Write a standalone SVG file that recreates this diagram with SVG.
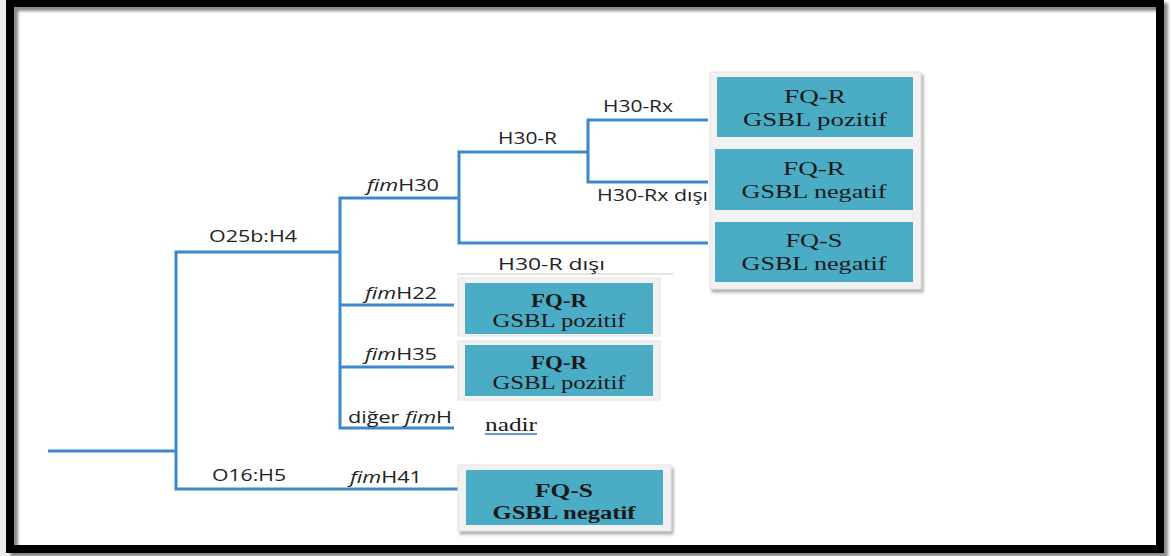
<svg xmlns="http://www.w3.org/2000/svg" width="1171" height="556" viewBox="0 0 1171 556">
  <defs>
    <filter id="blur" x="-5%" y="-5%" width="110%" height="110%">
      <feGaussianBlur stdDeviation="1.5"/>
    </filter>
    <filter id="psh" x="-10%" y="-10%" width="120%" height="120%">
      <feDropShadow dx="2" dy="3" stdDeviation="1.5" flood-color="#777" flood-opacity="0.6"/>
    </filter>
  </defs>
  <style>
    .ln { fill: none; stroke: #3d87cc; stroke-width: 3; stroke-linejoin: miter; stroke-linecap: butt; }
    .lbl { font-family: "Open Sans", "Liberation Sans", sans-serif; font-size: 16px; fill: #222; }
    .it { font-style: italic; }
    .panel { fill: #f2f2f2; stroke: #e2e2e2; stroke-width: 1; }
    .box { fill: #4bacc6; }
    .bt { font-family: "Liberation Serif", "Times New Roman", serif; font-size: 19px; fill: #1a1a1a; text-anchor: middle; }
    .b { font-weight: bold; }
  </style>
  <rect width="1171" height="556" fill="#ffffff"/>
  <rect x="0" y="0" width="6" height="556" fill="#ececec"/>
  <g id="frame">
    <rect x="14" y="7" width="1150" height="546" fill="none" stroke="#8a8a8a" stroke-width="8" filter="url(#blur)"/>
    <rect x="10" y="3" width="1150" height="546" fill="none" stroke="#000" stroke-width="8"/>
  </g>
  <g id="connectors">
    <path class="ln" d="M48 451 H176"/>
    <path class="ln" d="M340 252 H176 V489 H458"/>
    <path class="ln" d="M459 198 H340 V428 H454"/>
    <path class="ln" d="M340 305 H454"/>
    <path class="ln" d="M340 367 H454"/>
    <path class="ln" d="M588 152 H459 V243 H708"/>
    <path class="ln" d="M708 120 H588 V182 H708"/>
    <line x1="457" y1="274" x2="673" y2="274" stroke="#e4e4e4" stroke-width="2"/>
  </g>
  <g id="labels">
    <text class="lbl" x="209" y="242" textLength="88" lengthAdjust="spacingAndGlyphs">O25b:H4</text>
    <text class="lbl" x="212" y="481" textLength="74" lengthAdjust="spacingAndGlyphs">O16:H5</text>
    <text class="lbl" x="350" y="483" textLength="72" lengthAdjust="spacingAndGlyphs"><tspan class="it">fim</tspan>H41</text>
    <text class="lbl" x="367" y="191" textLength="72" lengthAdjust="spacingAndGlyphs"><tspan class="it">fim</tspan>H30</text>
    <text class="lbl" x="365" y="299" textLength="72" lengthAdjust="spacingAndGlyphs"><tspan class="it">fim</tspan>H22</text>
    <text class="lbl" x="365" y="360" textLength="72" lengthAdjust="spacingAndGlyphs"><tspan class="it">fim</tspan>H35</text>
    <text class="lbl" x="348" y="423" textLength="104" lengthAdjust="spacingAndGlyphs">diğer <tspan class="it">fim</tspan>H</text>
    <text class="lbl" x="498" y="144" textLength="59" lengthAdjust="spacingAndGlyphs">H30-R</text>
    <text class="lbl" x="498" y="270" textLength="107" lengthAdjust="spacingAndGlyphs">H30-R dışı</text>
    <text class="lbl" x="603" y="112" textLength="70" lengthAdjust="spacingAndGlyphs">H30-Rx</text>
    <text class="lbl" x="597" y="201" textLength="111" lengthAdjust="spacingAndGlyphs">H30-Rx dışı</text>
  </g>
  <g id="group-h30">
    <rect class="panel" x="710" y="72" width="211" height="217" filter="url(#psh)"/>
  </g>
  <g id="node-h30rx">
    <rect class="box" x="717" y="77" width="196" height="60"/>
    <text class="bt" x="815" y="103" textLength="62" lengthAdjust="spacingAndGlyphs">FQ-R</text>
    <text class="bt" x="815" y="126" textLength="144" lengthAdjust="spacingAndGlyphs">GSBL pozitif</text>
  </g>
  <g id="node-h30rx-disi">
    <rect class="box" x="715" y="149" width="198" height="61"/>
    <text class="bt" x="814" y="175" textLength="62" lengthAdjust="spacingAndGlyphs">FQ-R</text>
    <text class="bt" x="814" y="198" textLength="145" lengthAdjust="spacingAndGlyphs">GSBL negatif</text>
  </g>
  <g id="node-h30r-disi">
    <rect class="box" x="715" y="222" width="198" height="60"/>
    <text class="bt" x="814" y="247" textLength="57" lengthAdjust="spacingAndGlyphs">FQ-S</text>
    <text class="bt" x="814" y="270" textLength="145" lengthAdjust="spacingAndGlyphs">GSBL negatif</text>
  </g>
  <g id="node-fimh22">
    <rect class="panel" x="458" y="278" width="202" height="58"/>
    <rect class="box" x="465" y="283" width="188" height="51"/>
    <text class="bt b" x="559" y="307" textLength="56" lengthAdjust="spacingAndGlyphs">FQ-R</text>
    <text class="bt" x="559" y="327" textLength="133" lengthAdjust="spacingAndGlyphs">GSBL pozitif</text>
  </g>
  <g id="node-fimh35">
    <rect class="panel" x="458" y="341" width="202" height="59"/>
    <rect class="box" x="465" y="345" width="188" height="51"/>
    <text class="bt b" x="559" y="369" textLength="56" lengthAdjust="spacingAndGlyphs">FQ-R</text>
    <text class="bt" x="559" y="389" textLength="133" lengthAdjust="spacingAndGlyphs">GSBL pozitif</text>
  </g>
  <g id="node-nadir">
    <text x="485" y="431" font-family="Liberation Serif, serif" font-size="18" fill="#1a1a1a" textLength="52" lengthAdjust="spacingAndGlyphs">nadir</text>
    <line x1="485" y1="434" x2="537" y2="434" stroke="#3d6fc9" stroke-width="1.5"/>
  </g>
  <g id="node-fimh41">
    <rect class="panel" x="458" y="465" width="213" height="66" filter="url(#psh)"/>
    <rect class="box" x="466" y="470" width="197" height="55"/>
    <text class="bt b" x="564" y="497" textLength="58" lengthAdjust="spacingAndGlyphs">FQ-S</text>
    <text class="bt b" x="564" y="519" textLength="143" lengthAdjust="spacingAndGlyphs">GSBL negatif</text>
  </g>
</svg>
